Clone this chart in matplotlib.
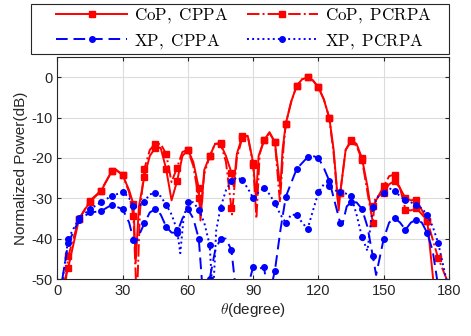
import numpy as np
import matplotlib
matplotlib.use("Agg")
import matplotlib.pyplot as plt
from matplotlib.patches import Rectangle

plt.rcParams['font.family'] = ['Liberation Sans', 'DejaVu Sans']
plt.rcParams['mathtext.fontset'] = 'cm'
plt.rcParams['axes.unicode_minus'] = False

# CoP, CPPA (solid red)
cop_cppa_t = [3.5, 5, 10, 15, 20, 25, 27, 30, 33, 35, 36, 37.5, 40, 42.5, 45, 47.5, 50, 52.5, 55,
              57.5, 60, 62.5, 65, 65.8, 67.5, 70, 72.5, 75, 77.5, 80, 81, 82.5, 85, 87.5, 90, 91.3,
              92.5, 95, 97.5, 100, 102.5, 103.5, 105, 107.5, 110, 112.5, 115, 117.5, 120, 122.5,
              125, 127, 129.3, 130, 132.5, 135, 137.5, 140, 142.5, 144.2, 145, 147.5, 150, 152.5,
              155, 157.5, 160, 162.5, 165, 170, 172.7, 174]
cop_cppa_db = [-50, -47.2, -35.1, -30.8, -28.3, -23.3, -22.9, -24.2, -28, -31.5, -46, -32, -24.6,
               -19.5, -17.5, -17.5, -22.7, -30.5, -25.8, -19.5, -18, -21, -27.5, -35.5, -23, -19.6,
               -16.5, -16.5, -19.5, -23.6, -27, -19, -14.6, -14.5, -21.2, -30, -19.5, -15.6, -13.6,
               -16.1, -27.5, -18, -11.5, -6, -2.1, -0.5, 0, -0.8, -2.5, -5.5, -10.1, -18, -33,
               -28.7, -18, -15.6, -16.5, -20, -27, -33, -32, -29.5, -28.6, -26.5, -25.7, -27.5,
               -30, -30.5, -30.3, -35.5, -50, -56]

# CoP, PCRPA (dash-dot red)
cop_pcrpa_t = [4, 5, 10, 15, 20, 25, 27, 30, 33, 35, 36.5, 38, 40, 42.5, 45, 47.5, 50, 52.5, 55,
               57.5, 60, 62.5, 65, 66, 67.5, 70, 72.5, 75, 77.5, 80, 80.3, 82.5, 85, 87.5, 90,
               91.5, 93, 95, 97.5, 100, 102.3, 104, 105, 107.5, 110, 112.5, 115, 117.5, 120,
               122.5, 125, 127, 129, 130, 132.5, 135, 137.5, 140, 143, 145, 146, 147.5, 150,
               152.5, 155, 157.5, 160, 162.5, 165, 170, 175, 178.9, 180]
cop_pcrpa_db = [-50, -44.4, -35.1, -30.6, -28.1, -23.3, -23, -24.2, -28.5, -34.5, -56, -33, -22.7,
                -18, -16.5, -16.5, -19, -26, -22.4, -18.5, -18, -22, -30, -33, -24, -19.6, -16.5,
                -16.3, -21, -32.4, -34, -20, -15, -14.5, -21.7, -35, -19, -15.6, -13.8, -16.1, -31,
                -17, -11.5, -6, -2.1, -0.5, 0, -0.8, -2.5, -5.5, -10.1, -19, -31, -28.7, -18,
                -15.9, -17, -20.4, -30, -36, -30, -29.5, -27, -24.5, -24.1, -27.5, -32.8, -33,
                -32.4, -35.5, -44.8, -50, -53]

# XP, CPPA (dashed blue)
xp_cppa_t = [2.3, 5, 10, 15, 20, 25, 30, 33, 35, 36, 40, 42.5, 45, 47.5, 50, 52.5, 55, 57.5, 60,
             62.5, 65, 67.5, 70, 72.5, 75, 77.5, 80, 82.5, 85, 87.5, 90, 92.5, 95, 97, 100, 102.5,
             105, 110, 115, 117.5, 120, 122.5, 125, 130, 131, 133, 135, 137.5, 140, 142.5, 145,
             146.5, 150, 152.5, 155, 157.5, 160, 162.5, 165, 167.5, 170, 172.5, 174.5, 176]
xp_cppa_db = [-50, -41.1, -35.3, -33.5, -33.2, -31.6, -32.7, -36, -40.3, -41, -36.2, -33.5, -32.7,
              -34, -37, -38.5, -38.5, -35, -32.7, -35, -40, -58, -50, -43, -40, -40, -42.8, -55,
              -58, -52, -47, -47.5, -47, -55, -47.9, -38, -29.6, -22.7, -19.8, -19.5, -20, -22.5,
              -25.7, -36.1, -36.5, -32, -31, -31, -32.6, -37, -44.4, -49, -40, -36, -34.9, -36,
              -37.8, -36, -35.3, -36, -38.6, -43, -50, -54]

# XP, PCRPA (dotted blue)
xp_pcrpa_t = [2.5, 5, 10, 15, 20, 25, 30, 32.5, 35, 37.5, 40, 42.5, 45, 47.5, 50, 52.5, 55, 56.5,
              58, 60, 62.5, 65, 67.5, 70, 71.5, 73, 75, 77.5, 80, 82.5, 85, 87.5, 90, 92.5, 95,
              97.5, 100, 102.5, 105, 107.5, 110, 112.5, 115, 117.5, 120, 122.5, 125, 127.5, 130,
              132.5, 135, 137.5, 140, 142.5, 145, 147.5, 150, 152.5, 155, 157.5, 160, 162.5, 165,
              167.5, 170, 172.5, 175, 178.7, 180]
xp_pcrpa_db = [-50, -40, -34.9, -32.7, -31, -29.4, -28.5, -29.5, -31.8, -32, -30.8, -29, -28.7,
               -29.5, -31.6, -34, -37.8, -43.6, -35, -30.8, -31, -32.8, -36, -41.5, -55, -38,
               -32.3, -28, -25.8, -24.8, -25.5, -27.5, -29.9, -28.5, -27.4, -29, -31.2, -34, -36.1,
               -34, -34.2, -36, -37.6, -33, -28.5, -26.5, -27, -28, -28.5, -28.8, -29.4, -34,
               -39.6, -43, -32.2, -29.5, -28.6, -27.5, -28.1, -29.5, -30.5, -31, -31.6, -32.5,
               -34.1, -37, -41, -50, -53]

labels = [r'$\mathrm{CoP,\ CPPA}$', r'$\mathrm{CoP,\ PCRPA}$',
          r'$\mathrm{XP,\ CPPA}$', r'$\mathrm{XP,\ PCRPA}$']


def marks(t):
    t = np.asarray(t)
    return np.isclose(np.mod(t, 5), 0)


W, H = 471, 336
fig = plt.figure(figsize=(W / 100, H / 100), dpi=100)
ax = fig.add_axes([0.1217, 0.1696, 0.8316, 0.6604])

h1, = ax.plot(cop_cppa_t, cop_cppa_db, '-', color='red', lw=1.4, marker='s', ms=4.5,
              markevery=list(marks(cop_cppa_t)))
h2, = ax.plot(cop_pcrpa_t, cop_pcrpa_db, '-.', color='red', lw=1.4, marker='s', ms=4.5,
              markevery=list(marks(cop_pcrpa_t)))
h3, = ax.plot(xp_cppa_t, xp_cppa_db, '--', color='blue', lw=1.4, marker='o', ms=4,
              markevery=list(marks(xp_cppa_t)), dashes=(6, 3))
h4, = ax.plot(xp_pcrpa_t, xp_pcrpa_db, ':', color='blue', lw=1.4, marker='o', ms=4,
              markevery=list(marks(xp_pcrpa_t)))

ax.set_xlim(0, 180)
ax.set_ylim(-50, 5)
ax.set_xticks(np.arange(0, 181, 30))
ax.set_yticks(np.arange(-50, 1, 10))
ax.grid(True, color='#dcdcdc', lw=0.8)
ax.set_axisbelow(True)
ax.tick_params(direction='in', top=True, right=True, labelsize=10.5, length=3,
               color='#262626', labelcolor='#262626')
for s in ax.spines.values():
    s.set_color('#262626')
    s.set_linewidth(0.8)

ax.set_xlabel(r'$\theta$(degree)', fontsize=11, color='#262626', labelpad=2)
ax.set_ylabel('Normalized Power(dB)', fontsize=11, color='#262626', labelpad=2)

# ncol fills column-wise, so order handles to get CoP in the top row
leg = fig.legend([h1, h3, h2, h4], [labels[0], labels[2], labels[1], labels[3]], ncol=2,
                 loc='upper left', bbox_to_anchor=(56 / W, 1 - 6 / H), fontsize=12.2,
                 handlelength=4.2, handletextpad=0.4, columnspacing=1.1, labelspacing=0.4,
                 frameon=False, borderpad=0, borderaxespad=0)

# legend box is wider than its content, drawn separately
fig.patches.append(Rectangle((31 / W, 1 - 54 / H), 418 / W, 50 / H, transform=fig.transFigure,
                             fill=False, edgecolor='#262626', lw=0.8, zorder=5))

fig.savefig('out.png', dpi=100)
